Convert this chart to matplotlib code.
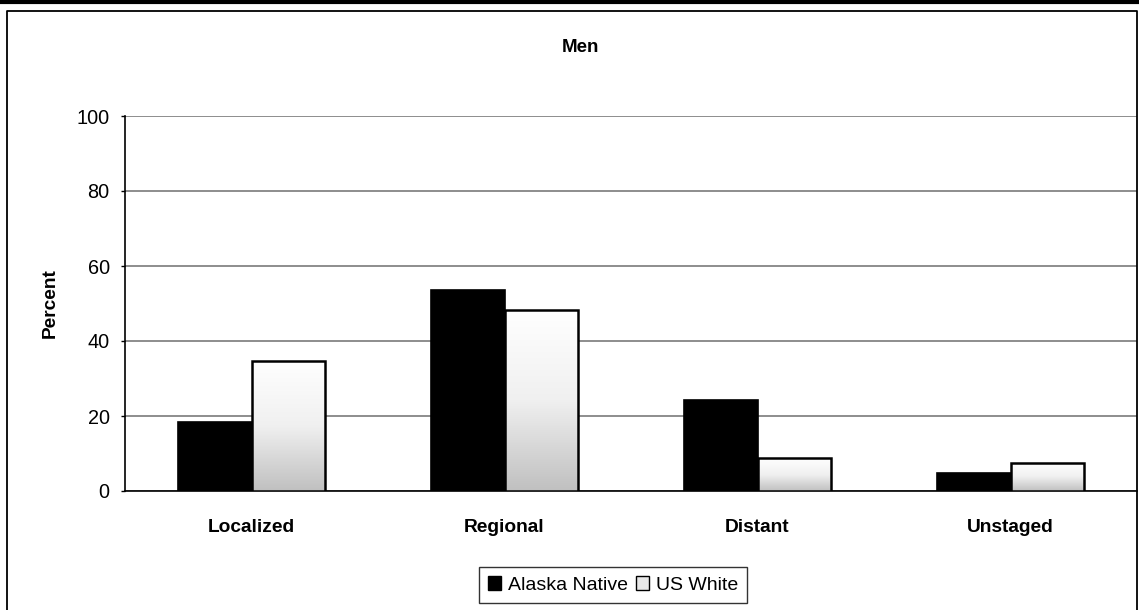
import numpy as np
import matplotlib
matplotlib.use("Agg")
import matplotlib.pyplot as plt
from matplotlib.lines import Line2D
from matplotlib.patches import Patch
from matplotlib.colors import LinearSegmentedColormap

plt.rcParams['font.family'] = ['Liberation Sans', 'DejaVu Sans']

categories = ["Localized", "Regional", "Distant", "Unstaged"]
alaska_native = [18.4, 53.5, 24.2, 4.7]
us_white = [34.8, 48.4, 8.7, 7.6]
yticks = [0, 20, 40, 60, 80, 100]
series_names = ["Alaska Native", "US White"]

W, H = 1139, 610
fig = plt.figure(figsize=(W / 100, H / 100), dpi=100)
ax = fig.add_axes([125 / W, (H - 491) / H, (1137 - 125) / W, (491 - 116) / H])

x = np.arange(len(categories))
bw = 0.29
bars_an = ax.bar(x - bw / 2, alaska_native, bw, color="black", edgecolor="black",
                 linewidth=1.2, zorder=3)
bars_us = ax.bar(x + bw / 2, us_white, bw, color="none", edgecolor="black",
                 linewidth=1.8, zorder=4)

# gradient fill for US White bars
grad = np.linspace(0, 1, 256).reshape(-1, 1)
cmap = LinearSegmentedColormap.from_list("g", ["#ffffff", "#f0f0f0", "#c0c0c0"])
for b in bars_us:
    x0, y0 = b.get_x(), b.get_y()
    w, h = b.get_width(), b.get_height()
    im = ax.imshow(grad, extent=[x0, x0 + w, y0, y0 + h], origin="upper",
                   cmap=cmap, aspect="auto", zorder=3.5, vmin=0, vmax=1)
    im.set_clip_path(b)

ax.set_xlim(-0.5, len(categories) - 0.5)
ax.set_ylim(0, 100)
ax.set_yticks(yticks)
ax.set_yticklabels([str(t) for t in yticks], fontsize=14.3)
ax.set_xticks(x)
ax.set_xticklabels(categories, fontsize=13.8, fontweight="bold")
ax.tick_params(axis="x", length=0, pad=20)
ax.tick_params(axis="y", length=3, width=1, pad=8, direction="out")
ax.grid(axis="y", color="#7a7a7a", linewidth=1.2, zorder=0)
ax.set_axisbelow(True)
for s in ["top", "right"]:
    ax.spines[s].set_visible(False)
ax.spines["left"].set_color("black")
ax.spines["bottom"].set_color("black")
ax.spines["left"].set_linewidth(1.2)
ax.spines["bottom"].set_linewidth(1.2)

ax.set_ylabel("Percent", fontsize=13.8, fontweight="bold", labelpad=13)

fig.text(580 / W, 1 - 48 / H, "Men", ha="center", va="center", fontsize=13.5,
         fontweight="bold")

handles = [Patch(facecolor="black", edgecolor="black"),
           Patch(facecolor="#e8e8e8", edgecolor="black")]
leg = fig.legend(handles, series_names, loc="center", bbox_to_anchor=(613 / W, 1 - 585 / H),
                 ncol=2, fontsize=14, frameon=True, fancybox=False, handlelength=0.7,
                 handleheight=0.7, handletextpad=0.35, columnspacing=0.4,
                 borderpad=0.45, borderaxespad=0)
leg.get_frame().set_edgecolor("black")
leg.get_frame().set_linewidth(1.0)

# outer chart border and top band
fig.add_artist(Line2D([7 / W, 7 / W, 1137 / W, 1137 / W], [0, 1 - 11 / H, 1 - 11 / H, 0],
                      color="black", linewidth=1.3, transform=fig.transFigure))
fig.add_artist(Line2D([0, 1], [1 - 1.5 / H, 1 - 1.5 / H], color="black", linewidth=3,
                      transform=fig.transFigure))

fig.savefig("out.png", dpi=100)
